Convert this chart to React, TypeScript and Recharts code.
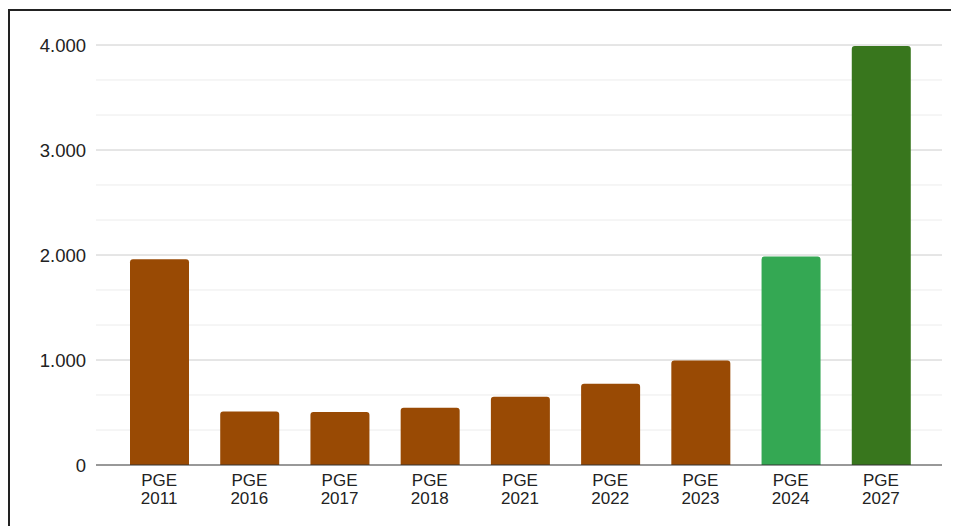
import { BarChart, Bar, XAxis, YAxis, CartesianGrid, Cell } from "recharts";

const categories = ["PGE 2011", "PGE 2016", "PGE 2017", "PGE 2018", "PGE 2021", "PGE 2022", "PGE 2023", "PGE 2024", "PGE 2027"];
const values = [1960, 510, 505, 545, 650, 775, 995, 1985, 3990];
const barColors = ["#994a04", "#994a04", "#994a04", "#994a04", "#994a04", "#994a04", "#994a04", "#34a853", "#38761d"];
const yTicks = [0, 1000, 2000, 3000, 4000];
const minorLines = [333, 667, 1333, 1667, 2333, 2667, 3333, 3667];

const data = categories.map((name, i) => ({ name, value: values[i] }));

const fmt = (v: number) => v.toLocaleString("de-DE");
const FONT = "Liberation Sans, Arial, sans-serif";

const XTick = (props: any) => {
  const { x, y, payload } = props;
  const [a, b] = String(payload.value).split(" ");
  return (
    <text x={x} y={y} textAnchor="middle" fontSize={17} fill="#222" fontFamily={FONT}>
      <tspan x={x} dy={13}>{a}</tspan>
      <tspan x={x} dy={18}>{b}</tspan>
    </text>
  );
};

const YTick = (props: any) => {
  const { x, y, payload } = props;
  return (
    <text x={x} y={y} dy={7} textAnchor="end" fontSize={18.5} fill="#222" fontFamily={FONT}>
      {fmt(payload.value)}
    </text>
  );
};

export default function App() {
  return (
    <div style={{ width: 960, height: 530, border: "2px solid #222", marginTop: 1, background: "#fff" }}>
      <BarChart width={948} height={514} data={data} margin={{ top: 34, right: 16, bottom: 10, left: 26 }}>
        <CartesianGrid vertical={false} horizontalValues={minorLines} stroke="#ececec" />
        <CartesianGrid vertical={false} horizontalValues={yTicks.slice(1)} stroke="#cccccc" />
        <XAxis
          dataKey="name"
          tick={<XTick />}
          tickLine={false}
          axisLine={{ stroke: "#333" }}
          interval={0}
          height={50}
          padding={{ left: 18, right: 16 }}
        />
        <YAxis
          domain={[0, 4000]}
          ticks={yTicks}
          tickLine={false}
          axisLine={false}
          width={60}
          tickMargin={4}
          tick={<YTick />}
        />
        <Bar dataKey="value" barSize={59} radius={[3, 3, 0, 0]} isAnimationActive={false}>
          {data.map((d, i) => (
            <Cell key={d.name} fill={barColors[i]} />
          ))}
        </Bar>
      </BarChart>
    </div>
  );
}
